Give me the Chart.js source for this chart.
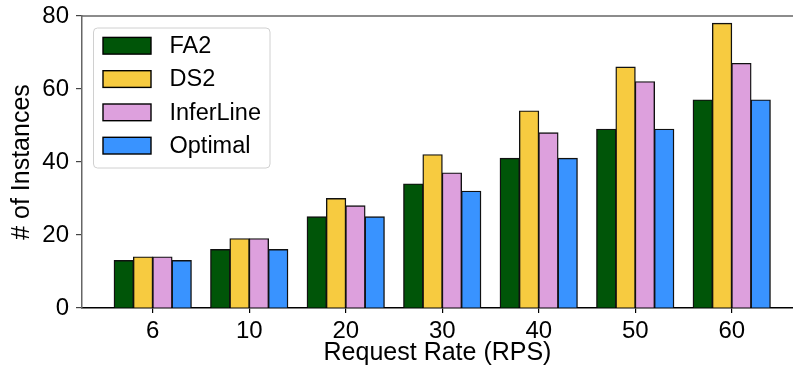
<!DOCTYPE html>
<html>
<head>
<meta charset="utf-8">
<script src="https://cdn.jsdelivr.net/npm/chart.js@4/dist/chart.umd.min.js"></script>
<style>
html,body{margin:0;padding:0;background:#fff;}
canvas{display:block;}
</style>
</head>
<body>
<canvas id="c" width="793" height="376"></canvas>
<script>
const categories = ['6', '10', '20', '30', '40', '50', '60'];
const seriesNames = ['FA2', 'DS2', 'InferLine', 'Optimal'];
const fa2 = [13, 16, 25, 34, 41, 49, 57];
const ds2 = [14, 19, 30, 42, 54, 66, 78];
const inferLine = [14, 19, 28, 37, 48, 62, 67];
const optimal = [13, 16, 25, 32, 41, 49, 57];
const yTicks = [0, 20, 40, 60, 80];
const colors = ['#005508', '#f7cb40', '#dda0dd', '#3993ff'];

const allSeries = [fa2, ds2, inferLine, optimal];
const FONT = 'Liberation Sans, Arial, sans-serif';

const datasets = allSeries.map((vals, k) => ({
  label: seriesNames[k],
  data: vals.map((y, i) => ({x: i, y: y})),
  backgroundColor: colors[k],
  borderColor: '#111',
  borderWidth: 1.4,
  borderSkipped: 'bottom',
  inflateAmount: 0.5,
  categoryPercentage: 0.8,
  barPercentage: 1.0
}));

const framePlugin = {
  id: 'frame',
  afterDatasetsDraw(chart) {
    const ctx = chart.ctx;
    const a = chart.chartArea;
    ctx.save();
    // top spine
    ctx.strokeStyle = '#666';
    ctx.lineWidth = 1.5;
    ctx.beginPath();
    ctx.moveTo(a.left, a.top);
    ctx.lineTo(a.right, a.top);
    ctx.stroke();
    // legend
    const lx = a.left + 11.5, ly = a.top + 12, lw = 176.5, lh = 140;
    ctx.beginPath();
    if (ctx.roundRect) ctx.roundRect(lx, ly, lw, lh, 4); else ctx.rect(lx, ly, lw, lh);
    ctx.fillStyle = 'rgba(255,255,255,0.8)';
    ctx.fill();
    ctx.strokeStyle = '#d0d0d0';
    ctx.lineWidth = 1;
    ctx.stroke();
    chart.data.datasets.forEach((ds, k) => {
      const cy = ly + 17.7 + k * 33.3;
      ctx.fillStyle = ds.backgroundColor;
      ctx.fillRect(lx + 9.5, cy - 8.3, 48, 16.7);
      ctx.strokeStyle = '#000';
      ctx.lineWidth = 1.4;
      ctx.strokeRect(lx + 9.5, cy - 8.3, 48, 16.7);
      ctx.fillStyle = '#000';
      ctx.font = '23.5px ' + FONT;
      ctx.textBaseline = 'middle';
      ctx.textAlign = 'left';
      ctx.fillText(ds.label, lx + 76, cy + 1);
    });
    ctx.restore();
  }
};

new Chart(document.getElementById('c'), {
  type: 'bar',
  data: { datasets: datasets },
  plugins: [framePlugin],
  options: {
    responsive: false,
    animation: false,
    layout: { padding: { left: 0, right: 0, top: 16, bottom: 0 } },
    plugins: { legend: { display: false }, tooltip: { enabled: false } },
    scales: {
      x: {
        type: 'linear',
        min: -0.733,
        max: 6.635,
        offset: false,
        afterBuildTicks(scale) {
          scale.ticks = categories.map((c, i) => ({ value: i }));
        },
        afterFit(scale) { scale.height = 68; scale.paddingLeft = 0; scale.paddingRight = 0; },
        grid: { display: true, drawOnChartArea: false, drawTicks: true, tickLength: 5, color: '#000', lineWidth: 1.2, offset: false },
        border: { display: true, color: '#000', width: 1.5 },
        ticks: {
          autoSkip: false,
          maxRotation: 0,
          padding: 4,
          color: '#000',
          font: { family: FONT, size: 24 },
          callback: (v) => categories[v]
        },
        title: {
          display: true,
          text: 'Request Rate (RPS)',
          color: '#000',
          font: { family: FONT, size: 25 },
          padding: { top: 0, bottom: 8 }
        }
      },
      y: {
        min: 0,
        max: 80,
        afterBuildTicks(scale) {
          scale.ticks = yTicks.map(v => ({ value: v }));
        },
        afterFit(scale) { scale.width = 82; scale.paddingTop = 0; scale.paddingBottom = 0; },
        grid: { display: true, drawOnChartArea: false, drawTicks: true, tickLength: 6, color: '#444', lineWidth: 1.2 },
        border: { display: true, color: '#666', width: 1.5 },
        ticks: {
          padding: 7,
          color: '#000',
          font: { family: FONT, size: 24 }
        },
        title: {
          display: true,
          text: '# of Instances',
          color: '#000',
          font: { family: FONT, size: 25 },
          padding: { top: 7, bottom: 0 }
        }
      }
    }
  }
});
</script>
</body>
</html>
